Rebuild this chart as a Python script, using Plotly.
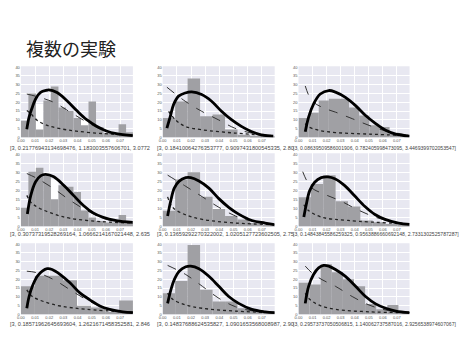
import plotly.graph_objects as go

TITLE = "複数の実験"

CAPTIONS = [
    "[3, 0.21776943134698476, 1.183003557606701, 3.0772",
    "[3, 0.18410064276353777, 0.9097431800545335, 2.80",
    "[3, 0.08639509586001906, 0.782405998473095, 3.4469399702053547]",
    "[3, 0.30737319528269164, 1.0666214167021448, 2.635",
    "[3, 0.13659292270322002, 1.0205127723602505, 2.75",
    "[3, 0.14843845586259325, 0.9563886660692148, 2.7331302525787287]",
    "[3, 0.18571962645693604, 1.2621671458352581, 2.846",
    "[3, 0.14837688624535827, 1.0901653568008987, 2.90",
    "[3, 0.29573737050506815, 1.140062737587016, 2.9256538974607067]",
]

X_TICKS = [0.00, 0.01, 0.02, 0.03, 0.04, 0.05, 0.06, 0.07]
Y_TICKS = [0, 5, 10, 15, 20, 25, 30, 35, 40]

# histogram bin widths and heights (bins start at 0)
BIN_W = [0.0053, 0.0088, 0.0072, 0.0053, 0.0088, 0.0088, 0.0099, 0.0088, 0.0079]
H1 = [9.5, 25, 4.5, 21, 29, 17, 15, 11, 7, 20.5, 6, 2.5, 1.5, 7.5, 3]
H2 = [11, 20.5, 33.5, 12, 13, 4.5, 1.5, 1, 0.5]
H3 = [11, 14, 21, 22, 22, 17, 12.5, 7, 6, 2.2, 1.3]
H4 = [10.3, 30.3, 32.5, 28, 15, 22.8, 22, 19, 8.8, 5, 3, 2.2, 2.2, 6.4, 2.2]
H5 = [8.7, 26, 30, 16.4, 9.7, 5.8, 3.9, 1.9, 1]
H6 = [16.2, 23.5, 28.4, 13.9, 11, 3.3, 2.3, 1.4, 1]
H7 = [16, 22, 22, 19.5, 5, 4, 1.5, 8]
H8 = [12, 19, 39.5, 14, 7.3, 7.3, 3.5, 2.5, 1.5]
H9 = [18, 17, 28.5, 24, 20, 16, 6, 3, 5.4, 1.5]
# white patches behind the bars
W1 = [0, 0, 19, 0, 0, 0, 0, 0, 11, 0, 0, 0, 0, 0, 0]
W4 = [0, 0, 0, 0, 26, 0, 0, 0, 0, 0, 0, 0, 0, 0, 0]
W9 = [0, 0, 0, 0, 0, 0, 0, 0, 0, 0]

# fitted curve (thick black, dense markers)
S1_X = [0.0042, 0.0058, 0.0081, 0.0104, 0.0139, 0.0186, 0.0197, 0.0255, 0.0325, 0.0394, 0.0464, 0.0534, 0.0603, 0.0673, 0.0789]
S1_Y = [4.7, 11.6, 17.2, 21.9, 25.6, 26.9, 27.1, 25.6, 20.9, 15.3, 10.1, 6.4, 3.7, 2.2, 1.1]
S2_X = [0.003, 0.0054, 0.0077, 0.0112, 0.0159, 0.0205, 0.0275, 0.0345, 0.0415, 0.0485, 0.0555, 0.0625, 0.0695, 0.078]
S2_Y = [5.3, 12, 18.7, 23.5, 25.3, 25.9, 24.4, 20.6, 14.9, 10.1, 6.3, 3.4, 1.5, 0.8]
S3_X = [0.0048, 0.0072, 0.0107, 0.0155, 0.0215, 0.0263, 0.0334, 0.0406, 0.0477, 0.0549, 0.062, 0.0692, 0.079]
S3_Y = [3.2, 11.6, 19, 24.7, 26.7, 25.8, 22.8, 18.1, 12.5, 7.9, 4.1, 1.9, 0.7]
S4_X = [0.0046, 0.007, 0.0104, 0.0139, 0.0174, 0.0232, 0.0302, 0.0371, 0.0441, 0.051, 0.058, 0.0673, 0.0789]
S4_Y = [6.9, 17.2, 24.7, 28, 28.8, 27.5, 22.8, 17.2, 11.6, 7.5, 5, 3.2, 2.2]
S5_X = [0.0035, 0.0058, 0.0082, 0.0117, 0.0163, 0.0198, 0.0256, 0.0326, 0.0396, 0.0466, 0.0536, 0.0629, 0.0723, 0.0788]
S5_Y = [5.8, 14.5, 21.2, 25.1, 27, 27, 25.1, 21.2, 15.4, 10.6, 6.8, 3.3, 1.9, 1]
S6_X = [0.0038, 0.0055, 0.0079, 0.0115, 0.0162, 0.021, 0.0258, 0.0329, 0.0401, 0.0473, 0.0544, 0.0616, 0.0711, 0.079]
S6_Y = [5.2, 12, 19.7, 24.5, 27, 27.4, 26.4, 22.6, 16.8, 11, 6.6, 3.9, 1.9, 1.2]
S7_X = [0.0042, 0.0058, 0.0081, 0.0116, 0.0151, 0.0186, 0.022, 0.0278, 0.0348, 0.0418, 0.0487, 0.0557, 0.0626, 0.0719, 0.079]
S7_Y = [3.5, 10.2, 16, 21.7, 24.6, 26, 25.6, 22.7, 17.9, 12.1, 8.3, 4.8, 2.9, 1.5, 1]
S8_X = [0.0035, 0.0058, 0.0082, 0.0117, 0.0163, 0.0198, 0.0256, 0.0326, 0.0396, 0.0466, 0.0536, 0.0629, 0.0723, 0.079]
S8_Y = [6.3, 14, 19.8, 24.6, 27.1, 27.5, 26, 21.7, 16, 10.2, 6.3, 2.9, 1.5, 1]
S9_X = [0.0048, 0.0072, 0.0107, 0.0143, 0.0179, 0.0215, 0.0263, 0.0334, 0.0406, 0.0477, 0.0549, 0.062, 0.0692, 0.079]
S9_Y = [6.3, 16, 22.7, 26.5, 27.9, 27.5, 25.6, 21.7, 16, 10.2, 6, 3.5, 1.9, 1]

# dashed curve
D1_X = [0.0042, 0.0116, 0.0232, 0.0348, 0.0464, 0.058, 0.0696, 0.079]
D1_Y = [24.7, 23.2, 20, 14.4, 8.8, 4.1, 1.9, 1.3]
D2_X = [0.003, 0.0159, 0.0275, 0.0392, 0.0508, 0.0625, 0.0765]
D2_Y = [28.6, 20.6, 14.9, 10.1, 5.3, 2.5, 1.1]
D3_X = [0.0048, 0.0095, 0.0167, 0.0263, 0.0382, 0.0501, 0.062, 0.074, 0.079]
D3_Y = [29.3, 20.9, 17.2, 14.4, 10.7, 6.9, 3.7, 1.9, 1.1]
D4_X = [0.0042, 0.0116, 0.0232, 0.0348, 0.0464, 0.058, 0.0696, 0.079]
D4_Y = [29.3, 26.5, 20.9, 14.4, 8.8, 4.5, 2.6, 1.9]
D5_X = [0.0035, 0.0163, 0.028, 0.0396, 0.0513, 0.0629, 0.0788]
D5_Y = [28.4, 22.2, 16.4, 10.6, 5.8, 2.9, 1]
D6_X = [0.003, 0.0091, 0.0186, 0.0305, 0.0425, 0.0544, 0.0663, 0.079]
D6_Y = [30.3, 21.6, 17.8, 13.9, 9.1, 5.2, 2.7, 1.4]
D7_X = [0.0042, 0.0116, 0.0232, 0.0348, 0.0464, 0.058, 0.0696, 0.079]
D7_Y = [24.6, 23.7, 19.8, 14, 8.3, 4, 1.9, 1.2]
D8_X = [0.0035, 0.0163, 0.028, 0.0396, 0.0513, 0.0629, 0.079]
D8_Y = [27.9, 22.7, 16, 9.2, 4.4, 2.1, 1]
D9_X = [0.0048, 0.0095, 0.0167, 0.0263, 0.0382, 0.0501, 0.062, 0.079]
D9_Y = [27.5, 23.7, 19.8, 16, 10.2, 5.4, 2.5, 1]

# dotted curve
P1_X = [0.0042, 0.007, 0.0116, 0.0186, 0.0278, 0.039, 0.058, 0.079]
P1_Y = [15.3, 13.5, 9.7, 6.9, 5, 3.6, 2.2, 1.3]
P2_X = [0.0042, 0.0089, 0.0159, 0.0275, 0.0508, 0.0765]
P2_Y = [14.9, 10.1, 6.3, 4.4, 2.5, 1.1]
P3_X = [0.0048, 0.0072, 0.0143, 0.0263, 0.0501, 0.079]
P3_Y = [7.9, 6, 4.1, 2.8, 1.9, 1.1]
P4_X = [0.0042, 0.007, 0.0116, 0.0232, 0.0348, 0.058, 0.079]
P4_Y = [17.2, 13.5, 10.7, 6.9, 4.5, 2.6, 1.9]
P5_X = [0.0035, 0.007, 0.0163, 0.028, 0.0513, 0.0788]
P5_Y = [16.4, 10.6, 6.4, 3.9, 1.9, 1]
P6_X = [0.0038, 0.0067, 0.0162, 0.0353, 0.079]
P6_Y = [12, 9.1, 5.2, 3.3, 1.4]
P7_X = [0.0042, 0.0081, 0.0162, 0.0278, 0.0464, 0.079]
P7_Y = [14, 10.2, 7.3, 4.8, 2.9, 1.2]
P8_X = [0.0035, 0.007, 0.0163, 0.028, 0.0513, 0.079]
P8_Y = [12.1, 8.7, 5.4, 3.5, 1.9, 1]
P9_X = [0.0048, 0.0072, 0.0143, 0.0263, 0.0501, 0.079]
P9_Y = [12, 9.2, 5.4, 2.9, 1.5, 1]

HEIGHTS = [H1, H2, H3, H4, H5, H6, H7, H8, H9]
WHITES = {0: W1, 3: W4, 8: W9}
SOLIDS = [(S1_X, S1_Y), (S2_X, S2_Y), (S3_X, S3_Y), (S4_X, S4_Y), (S5_X, S5_Y),
          (S6_X, S6_Y), (S7_X, S7_Y), (S8_X, S8_Y), (S9_X, S9_Y)]
DASHES = [(D1_X, D1_Y), (D2_X, D2_Y), (D3_X, D3_Y), (D4_X, D4_Y), (D5_X, D5_Y),
          (D6_X, D6_Y), (D7_X, D7_Y), (D8_X, D8_Y), (D9_X, D9_Y)]
DOTS = [(P1_X, P1_Y), (P2_X, P2_Y), (P3_X, P3_Y), (P4_X, P4_Y), (P5_X, P5_Y),
        (P6_X, P6_Y), (P7_X, P7_Y), (P8_X, P8_Y), (P9_X, P9_Y)]

W, H = 474, 355
COLS_PX = [(17, 130), (160, 273), (297, 409)]
ROWS_PX = [(65, 137), (153, 227), (244, 316)]
CAP_X = [4, 152, 289]
CAP_SIZE = [5.6, 5.6, 5.1]
CAP_Y = [148, 235, 326]

fig = go.Figure()
layout = dict(
    width=W, height=H, margin=dict(l=0, r=0, t=0, b=0),
    paper_bgcolor="white", plot_bgcolor="#e8e8f1",
    showlegend=False, barmode="overlay",
)
annotations = []

for i in range(9):
    r, c = divmod(i, 3)
    n = i + 1
    xa = "x" if n == 1 else f"x{n}"
    ya = "y" if n == 1 else f"y{n}"
    bw = BIN_W[i]
    hs = HEIGHTS[i]
    centers = [bw * (k + 0.5) for k in range(len(hs))]
    if i in WHITES:
        fig.add_trace(go.Bar(x=centers, y=WHITES[i], width=[bw] * len(hs),
                             marker=dict(color="white", line=dict(width=0)),
                             xaxis=xa, yaxis=ya, hoverinfo="skip"))
    fig.add_trace(go.Bar(x=centers, y=hs, width=[bw] * len(hs),
                         marker=dict(color="#a0a0a4", line=dict(width=0)),
                         xaxis=xa, yaxis=ya))
    dx, dy = DASHES[i]
    fig.add_trace(go.Scatter(x=dx, y=dy, mode="lines", line=dict(color="#333", width=1, dash="dash", shape="spline"),
                             xaxis=xa, yaxis=ya))
    px_, py_ = DOTS[i]
    fig.add_trace(go.Scatter(x=px_, y=py_, mode="lines", line=dict(color="#222", width=1.3, dash="dot", shape="spline"),
                             xaxis=xa, yaxis=ya))
    sx, sy = SOLIDS[i]
    fig.add_trace(go.Scatter(x=sx, y=sy, mode="lines", line=dict(color="black", width=2.8, shape="spline"),
                             xaxis=xa, yaxis=ya))

    x0, x1 = COLS_PX[c]
    y0, y1 = ROWS_PX[r]
    axkey = "xaxis" if n == 1 else f"xaxis{n}"
    aykey = "yaxis" if n == 1 else f"yaxis{n}"
    layout[axkey] = dict(domain=[x0 / W, x1 / W], range=[0, 0.079], anchor=ya,
                         tickvals=X_TICKS, tickformat=".2f", showgrid=True, gridcolor="white",
                         gridwidth=1, zeroline=False, showline=False, ticks="",
                         tickfont=dict(size=4, color="#555", family="Liberation Sans"))
    layout[aykey] = dict(domain=[1 - y1 / H, 1 - y0 / H], range=[0, 40.5], anchor=xa,
                         tickvals=Y_TICKS, showgrid=True, gridcolor="white", gridwidth=1,
                         zeroline=False, showline=False, ticks="",
                         tickfont=dict(size=4, color="#555", family="Liberation Sans"))
    annotations.append(dict(text=CAPTIONS[i], x=CAP_X[c] / W, y=1 - CAP_Y[r] / H,
                            xref="paper", yref="paper", xanchor="left", yanchor="middle",
                            showarrow=False, font=dict(size=CAP_SIZE[c], color="#444", family="Liberation Sans")))

annotations.append(dict(text=TITLE, x=20 / W, y=1 - 47 / H, xref="paper", yref="paper",
                        xanchor="left", yanchor="middle", showarrow=False,
                        font=dict(size=18, color="#222", family="Noto Sans CJK JP")))
layout["annotations"] = annotations
fig.update_layout(**layout)
fig.write_html("out.html")
